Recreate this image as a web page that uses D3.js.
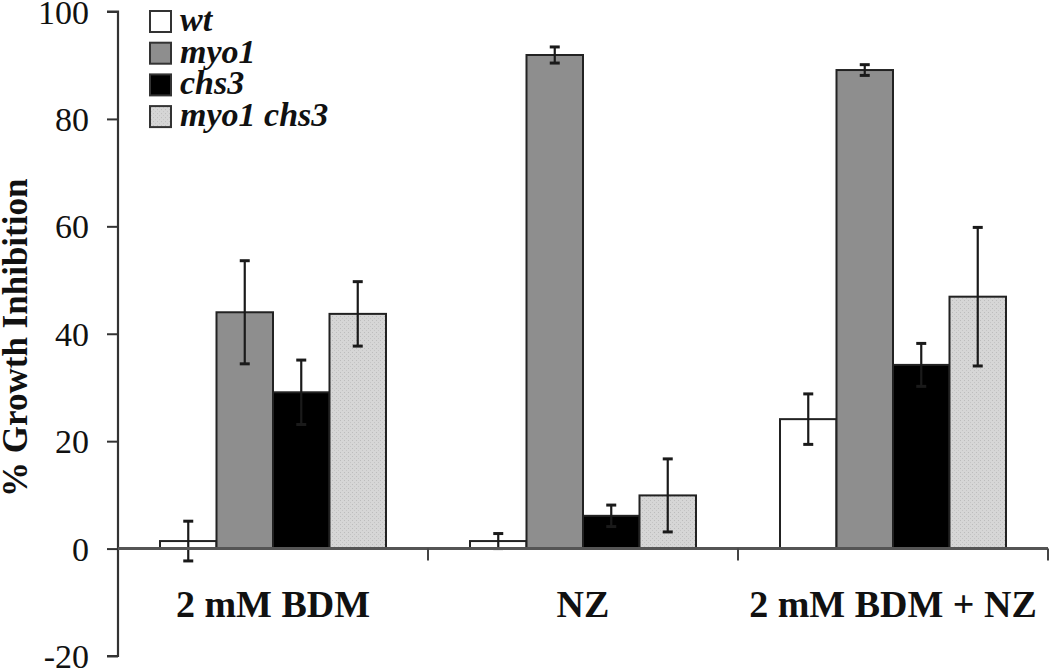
<!DOCTYPE html>
<html>
<head>
<meta charset="utf-8">
<script src="https://cdn.jsdelivr.net/npm/d3@7"></script>
<style>
  html, body { margin: 0; padding: 0; background: #fff; }
  svg { display: block; }
</style>
</head>
<body>
<svg id="chart" width="1050" height="669"></svg>
<script>
// ---- data ----
const categories = ["2 mM BDM", "NZ", "2 mM BDM + NZ"];
const seriesNames = ["wt", "myo1", "chs3", "myo1 chs3"];
const wtValues = [1.4, 1.4, 24.1];
const wtErrors = [3.7, 1.4, 4.7];
const myo1Values = [44.0, 91.9, 89.1];
const myo1Errors = [9.6, 1.5, 1.0];
const chs3Values = [29.1, 6.1, 34.2];
const chs3Errors = [6.0, 2.0, 4.0];
const myo1chs3Values = [43.7, 9.9, 46.9];
const myo1chs3Errors = [6.0, 6.8, 12.9];
const yTicks = [-20, 0, 20, 40, 60, 80, 100];
const yLabel = "% Growth Inhibition";

(function () {
const seriesValues = [wtValues, myo1Values, chs3Values, myo1chs3Values];
const seriesErrors = [wtErrors, myo1Errors, chs3Errors, myo1chs3Errors];
const fills = ["#ffffff", "#8e8e8e", "#000000", "url(#stipple)"];

// ---- layout ----
const svg = d3.select("#chart");
const pLeft = 118, pRight = 1048, pTop = 11.5, pBottom = 656;
const serif = "'Liberation Serif', 'DejaVu Serif', serif";

const defs = svg.append("defs");
const pat = defs.append("pattern").attr("id", "stipple")
  .attr("patternUnits", "userSpaceOnUse").attr("width", 4).attr("height", 4);
pat.append("rect").attr("width", 4).attr("height", 4).attr("fill", "#d6d6d6");
pat.append("rect").attr("x", 0).attr("y", 0).attr("width", 1).attr("height", 1).attr("fill", "#bcbcbc");
pat.append("rect").attr("x", 2).attr("y", 2).attr("width", 1).attr("height", 1).attr("fill", "#c4c4c4");

const y = d3.scaleLinear().domain([-20, 100]).range([pBottom, pTop]);
const x0 = d3.scaleBand().domain(categories).range([pLeft, pRight])
  .paddingInner(0.271).paddingOuter(0.1355);
const x1 = d3.scaleBand().domain(seriesNames).range([0, x0.bandwidth()]).padding(0);

// y axis
const yAxis = d3.axisLeft(y).tickValues(yTicks).tickSize(11).tickPadding(18)
  .tickFormat(d => String(d));
const gy = svg.append("g").attr("transform", `translate(${pLeft},0)`).call(yAxis);
gy.select(".domain").attr("stroke", "#333").attr("stroke-width", 2.2)
  .attr("d", `M-11,${y(100)}H0V${y(-20)}H-11`);
gy.selectAll(".tick line").attr("stroke", "#333").attr("stroke-width", 2);
gy.selectAll(".tick text").attr("font-family", serif).attr("font-size", 34)
  .attr("fill", "#111").attr("dy", "0.34em");

// y label
svg.append("text")
  .attr("transform", `translate(27,${(pTop + pBottom) / 2 + 4}) rotate(-90)`)
  .attr("text-anchor", "middle")
  .attr("font-family", serif).attr("font-weight", "bold").attr("font-size", 35)
  .attr("fill", "#111")
  .text(yLabel);

// bars
const groups = svg.append("g").selectAll("g")
  .data(categories).join("g")
  .attr("transform", d => `translate(${x0(d)},0)`);

groups.each(function(cat, ci) {
  const g = d3.select(this);
  seriesNames.forEach((s, si) => {
    const v = seriesValues[si][ci];
    g.append("rect")
      .attr("x", x1(s))
      .attr("y", y(Math.max(0, v)))
      .attr("width", x1.bandwidth())
      .attr("height", Math.abs(y(v) - y(0)))
      .attr("fill", fills[si])
      .attr("stroke", "#222")
      .attr("stroke-width", 2);
  });
});

// x axis (baseline)
const bounds = [1, 2, 3].map(k => pLeft + x0.step() * k);
svg.append("line").attr("x1", pLeft).attr("x2", pRight)
  .attr("y1", y(0)).attr("y2", y(0))
  .attr("stroke", "#555").attr("stroke-width", 3);
svg.append("g").selectAll("line").data(bounds).join("line")
  .attr("x1", d => d).attr("x2", d => d)
  .attr("y1", y(0)).attr("y2", y(0) + 12)
  .attr("stroke", "#444").attr("stroke-width", 2);

// error bars
groups.each(function(cat, ci) {
  const g = d3.select(this);
  seriesNames.forEach((s, si) => {
    const v = seriesValues[si][ci], e = seriesErrors[si][ci];
    const cx = x1(s) + x1.bandwidth() / 2;
    const eg = g.append("g").attr("stroke", "#1a1a1a").attr("stroke-width", 2.2);
    eg.append("line").attr("x1", cx).attr("x2", cx).attr("y1", y(v + e)).attr("y2", y(v - e));
    eg.append("line").attr("x1", cx - 5).attr("x2", cx + 5).attr("y1", y(v + e)).attr("y2", y(v + e)).attr("stroke-width", 3);
    eg.append("line").attr("x1", cx - 5).attr("x2", cx + 5).attr("y1", y(v - e)).attr("y2", y(v - e)).attr("stroke-width", 3);
  });
});

// category labels
svg.append("g").selectAll("text").data(categories).join("text")
  .attr("x", d => x0(d) + x0.bandwidth() / 2)
  .attr("y", 617)
  .attr("text-anchor", "middle")
  .attr("font-family", serif).attr("font-weight", "bold").attr("font-size", 38)
  .attr("fill", "#111")
  .text(d => d);

// legend
const legend = svg.append("g").attr("transform", "translate(149,10)");
const li = legend.selectAll("g").data(seriesNames).join("g")
  .attr("transform", (d, i) => `translate(0,${i * 31.7})`);
li.append("rect").attr("x", 1).attr("y", 1).attr("width", 21).attr("height", 21)
  .attr("fill", (d, i) => fills[i]).attr("stroke", "#333").attr("stroke-width", 2);
li.append("text").attr("x", 31).attr("y", 21)
  .attr("font-family", serif).attr("font-weight", "bold").attr("font-style", "italic")
  .attr("font-size", 34).attr("fill", "#111")
  .text(d => d);
})();
</script>
</body>
</html>
